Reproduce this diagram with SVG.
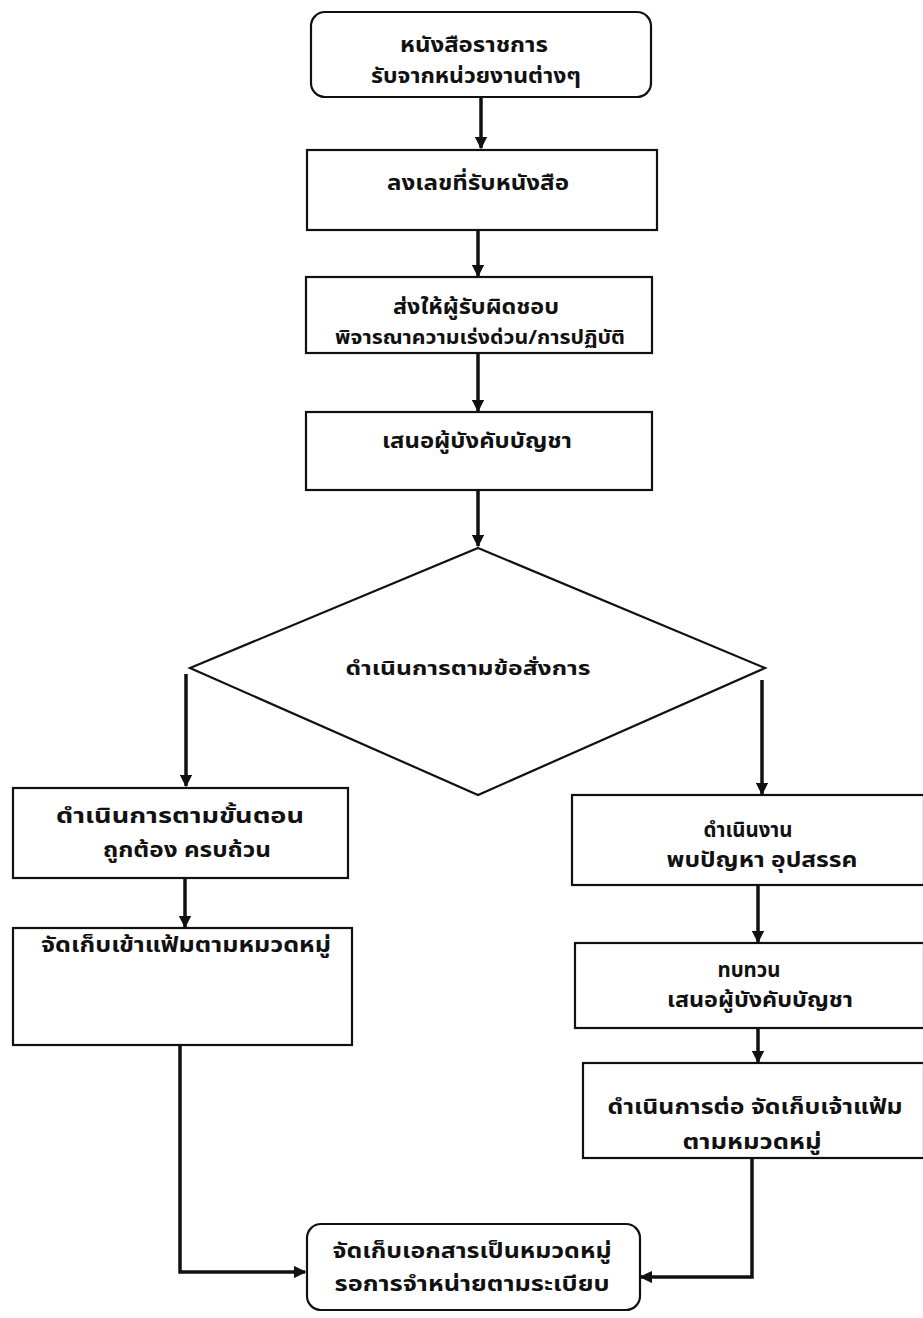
<svg xmlns="http://www.w3.org/2000/svg" width="923" height="1318" viewBox="0 0 923 1318">
<style>
.box{fill:#fff;stroke:#111;stroke-width:2.2}
.t{font-family:"Noto Sans Thai","Noto Sans","DejaVu Sans",sans-serif;font-weight:bold;font-size:21px;fill:#111;text-anchor:middle}
.tn{font-family:"Noto Sans Thai","Noto Sans","DejaVu Sans",sans-serif;font-weight:bold;font-size:19px;fill:#111;text-anchor:middle}
.c{fill:none;stroke:#111;stroke-width:3.5}
</style>
<defs>
<marker id="ah" viewBox="0 0 10 10" refX="9" refY="5" markerWidth="3.6" markerHeight="3.6" orient="auto" markerUnits="strokeWidth">
<path d="M0,0 L10,5 L0,10 z" fill="#111"/>
</marker>
</defs>
<rect width="923" height="1318" fill="#fff"/>
<g id="connectors">
<line class="c" x1="481" y1="97" x2="481" y2="148" marker-end="url(#ah)"/>
<line class="c" x1="478" y1="230" x2="478" y2="276" marker-end="url(#ah)"/>
<line class="c" x1="478" y1="353" x2="478" y2="411" marker-end="url(#ah)"/>
<line class="c" x1="478" y1="490" x2="478" y2="546" marker-end="url(#ah)"/>
<line class="c" x1="186" y1="674" x2="186" y2="786" marker-end="url(#ah)"/>
<line class="c" x1="762" y1="680" x2="762" y2="794" marker-end="url(#ah)"/>
<line class="c" x1="185" y1="878" x2="185" y2="927" marker-end="url(#ah)"/>
<line class="c" x1="758" y1="885" x2="758" y2="942" marker-end="url(#ah)"/>
<line class="c" x1="758" y1="1028" x2="758" y2="1062" marker-end="url(#ah)"/>
<polyline class="c" points="180,1045 180,1272 305,1272" marker-end="url(#ah)"/>
<polyline class="c" points="752,1158 752,1277 641,1277" marker-end="url(#ah)"/>
</g>
<g id="n1">
<rect class="box" x="311" y="12" width="340" height="85" rx="14"/>
<text class="t" x="474" y="52" textLength="148" lengthAdjust="spacingAndGlyphs">หนังสือราชการ</text>
<text class="t" x="476" y="83" textLength="210" lengthAdjust="spacingAndGlyphs">รับจากหน่วยงานต่างๆ</text>
</g>
<g id="n2">
<rect class="box" x="307" y="150" width="350" height="80"/>
<text class="t" x="478" y="190" textLength="182" lengthAdjust="spacingAndGlyphs">ลงเลขที่รับหนังสือ</text>
</g>
<g id="n3">
<rect class="box" x="306" y="277" width="346" height="76"/>
<text class="t" x="476" y="314" textLength="166" lengthAdjust="spacingAndGlyphs">ส่งให้ผู้รับผิดชอบ</text>
<text class="tn" x="480" y="344" textLength="290" lengthAdjust="spacingAndGlyphs">พิจารณาความเร่งด่วน/การปฏิบัติ</text>
</g>
<g id="n4">
<rect class="box" x="306" y="412" width="346" height="78"/>
<text class="t" x="477" y="448" textLength="190" lengthAdjust="spacingAndGlyphs">เสนอผู้บังคับบัญชา</text>
</g>
<g id="n5">
<polygon class="box" points="478,548 765,668 478,795 190,668"/>
<text class="tn" x="468" y="675" textLength="245" lengthAdjust="spacingAndGlyphs" font-weight="600">ดำเนินการตามข้อสั่งการ</text>
</g>
<g id="n6">
<rect class="box" x="13" y="788" width="335" height="90"/>
<text class="t" x="180" y="823" textLength="248" lengthAdjust="spacingAndGlyphs">ดำเนินการตามขั้นตอน</text>
<text class="t" x="187" y="857" textLength="168" lengthAdjust="spacingAndGlyphs">ถูกต้อง ครบถ้วน</text>
</g>
<g id="n7">
<rect class="box" x="13" y="928" width="339" height="117"/>
<text class="t" x="186" y="952" textLength="290" lengthAdjust="spacingAndGlyphs">จัดเก็บเข้าแฟ้มตามหมวดหมู่</text>
</g>
<g id="n8">
<rect class="box" x="572" y="795" width="352" height="90"/>
<text class="t" x="748" y="837" textLength="89" lengthAdjust="spacingAndGlyphs">ดำเนินงาน</text>
<text class="t" x="762" y="867" textLength="191" lengthAdjust="spacingAndGlyphs">พบปัญหา อุปสรรค</text>
</g>
<g id="n9">
<rect class="box" x="575" y="943" width="349" height="85"/>
<text class="t" x="749" y="977" textLength="63" lengthAdjust="spacingAndGlyphs">ทบทวน</text>
<text class="t" x="760" y="1007" textLength="186" lengthAdjust="spacingAndGlyphs">เสนอผู้บังคับบัญชา</text>
</g>
<g id="n10">
<rect class="box" x="583" y="1063" width="341" height="95"/>
<text class="t" x="755" y="1114" textLength="295" lengthAdjust="spacingAndGlyphs">ดำเนินการต่อ จัดเก็บเจ้าแฟ้ม</text>
<text class="t" x="752" y="1149" textLength="139" lengthAdjust="spacingAndGlyphs">ตามหมวดหมู่</text>
</g>
<g id="n11">
<rect class="box" x="307" y="1224" width="333" height="86" rx="14"/>
<text class="t" x="472" y="1258" textLength="279" lengthAdjust="spacingAndGlyphs">จัดเก็บเอกสารเป็นหมวดหมู่</text>
<text class="t" x="472" y="1291" textLength="275" lengthAdjust="spacingAndGlyphs">รอการจำหน่ายตามระเบียบ</text>
</g>
</svg>
